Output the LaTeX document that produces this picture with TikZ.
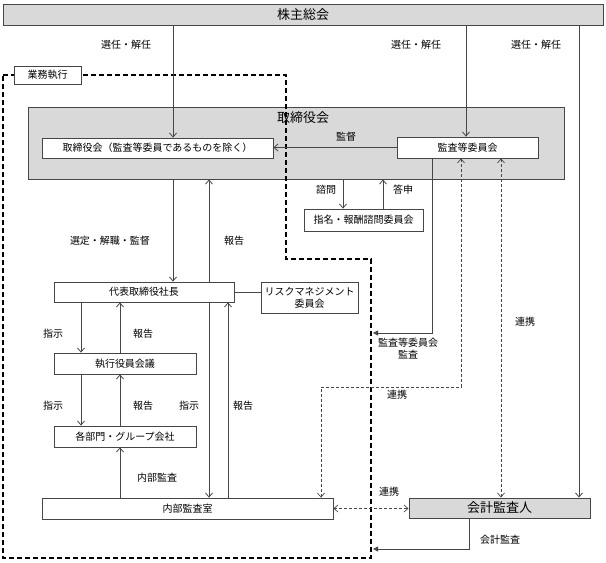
\documentclass[tikz,border=0pt]{standalone}
\usepackage{fontspec}
\setmainfont{Noto Sans CJK JP}
\usetikzlibrary{arrows.meta,calc}
\definecolor{ln}{RGB}{70,70,70}
\definecolor{gfill}{RGB}{217,217,217}
\tikzset{
  box/.style={draw=ln, line width=0.8pt, fill=white, inner sep=0pt, font=\fontsize{10}{12}\selectfont, text=black},
  gbox/.style={box, fill=gfill, line width=1pt},
  lab/.style={inner sep=0pt, font=\fontsize{10}{12}\selectfont, text=black},
  big/.style={font=\fontsize{13}{15}\selectfont},
  conn/.style={draw=ln, line width=0.8pt},
  arr/.style={conn, -{Straight Barb[length=4pt,width=7pt]}},
  darr/.style={conn, line width=0.7pt, dash pattern=on 3pt off 2pt, {Straight Barb[length=4pt,width=7pt]}-{Straight Barb[length=4pt,width=7pt]}},
  farr/.style={conn, -{Triangle[length=5pt,width=5pt]}},
  bound/.style={draw=black, line width=1.5pt, dash pattern=on 5pt off 3pt},
}
\begin{document}
\begin{tikzpicture}[x=1pt,y=-1pt]
\useasboundingbox (0,0) rectangle (606,563);
% boxes
\node[gbox, big, minimum width=600pt, minimum height=21pt] (kabu) at (303,14.5) {株主総会};
\node[gbox, minimum width=536pt, minimum height=72pt] (tori) at (296,143) {};
\node[lab, big] (toriT) at (303,118) {取締役会};
\node[box, minimum width=231pt, minimum height=20pt] (toriA) at (157.5,148) {取締役会（監査等委員であるものを除く）};
\node[box, minimum width=141pt, minimum height=21pt] (kansa) at (467.5,147.5) {監査等委員会};
\node[box, minimum width=119pt, minimum height=22pt] (shimei) at (363.5,220) {指名・報酬諮問委員会};
\node[box, minimum width=180pt, minimum height=20pt] (daihyo) at (144,292) {代表取締役社長};
\node[box, minimum width=97pt, minimum height=31pt, align=center] (risk) at (309.5,297.5) {リスクマネジメント\\委員会};
\node[box, minimum width=142pt, minimum height=21pt] (shikko) at (125,363.5) {執行役員会議};
\node[box, minimum width=142pt, minimum height=21pt] (kakubu) at (125,436.5) {各部門・グループ会社};
\node[box, minimum width=291pt, minimum height=21pt] (naibu) at (187.5,508.5) {内部監査室};
\node[gbox, big, minimum width=181pt, minimum height=20pt] (kaikei) at (499.5,508) {会計監査人};
% boundary
\draw[bound] (3,75) -- (286,75) -- (286,259) -- (371,259) -- (371,558) -- (3,558) -- cycle;
\node[box, minimum width=67pt, minimum height=18pt] (gyomu) at (47.5,75) {業務執行};
% helper coordinates
\coordinate (x81) at (81,0);
\coordinate (x120) at (120,0);
\coordinate (x173) at (173,0);
\coordinate (x209) at (209,0);
\coordinate (x228) at (228,0);
\coordinate (x343) at (343,0);
\coordinate (x383) at (383,0);
\coordinate (x432) at (432,0);
\coordinate (x461) at (461,0);
\coordinate (x466) at (466,0);
\coordinate (x469) at (469,0);
\coordinate (x501) at (501,0);
\coordinate (x579) at (579,0);
\coordinate (b1) at (373,333);
\coordinate (b2) at (373,549);
\coordinate (k1) at (321,387);
% connectors
\draw[arr] (kabu.south -| x173) -- (toriA.north -| x173);
\draw[arr] (kabu.south -| x466) -- (kansa.north -| x466);
\draw[arr] (kabu.south -| x579) -- (kaikei.north -| x579);
\draw[arr] (kansa.west) -- (kansa.west -| toriA.east);
\draw[arr] (tori.south -| x343) -- (shimei.north -| x343);
\draw[arr] (shimei.north -| x383) -- (tori.south -| x383);
\draw[farr] (kansa.south -| x432) |- (b1);
\draw[arr] (tori.south -| x173) -- (daihyo.north -| x173);
\draw[arr] (daihyo.north -| x209) -- (tori.south -| x209);
\draw[conn] (daihyo.east) -- (daihyo.east -| risk.west);
\draw[arr] (daihyo.south -| x81) -- (shikko.north -| x81);
\draw[arr] (shikko.north -| x120) -- (daihyo.south -| x120);
\draw[arr] (shikko.south -| x81) -- (kakubu.north -| x81);
\draw[arr] (kakubu.north -| x120) -- (shikko.south -| x120);
\draw[arr] (daihyo.south -| x209) -- (naibu.north -| x209);
\draw[arr] (naibu.north -| x228) -- (daihyo.south -| x228);
\draw[arr] (naibu.north -| x120) -- (kakubu.south -| x120);
\draw[darr] (kansa.south -| x461) |- (k1) -- (naibu.north -| k1);
\draw[darr] (kansa.south -| x501) -- (kaikei.north -| x501);
\draw[darr] (naibu.east) -- (naibu.east -| kaikei.west);
\draw[farr] (kaikei.south -| x469) |- (b2);
% labels
\node[lab] (l1) at (126,45) {選任・解任};
\node[lab] (l2) at (416,45) {選任・解任};
\node[lab] (l3) at (536,45) {選任・解任};
\node[lab] (l4) at (346,137) {監督};
\node[lab] (l5) at (326,190) {諮問};
\node[lab] (l6) at (403,190) {答申};
\node[lab] (l7) at (110,241) {選定・解職・監督};
\node[lab] (l8) at (234,241) {報告};
\node[lab] (l9) at (53,334) {指示};
\node[lab] (l10) at (143,334) {報告};
\node[lab] (l11) at (53,406) {指示};
\node[lab] (l12) at (143,406) {報告};
\node[lab] (l13) at (189,406) {指示};
\node[lab] (l14) at (243,406) {報告};
\node[lab] (l15) at (157,478) {内部監査};
\node[lab, align=center] (l16) at (408,349) {監査等委員会\\監査};
\node[lab] (l17) at (397,395) {連携};
\node[lab] (l18) at (525,322) {連携};
\node[lab] (l19) at (389,492) {連携};
\node[lab] (l20) at (500,540) {会計監査};
\end{tikzpicture}
\end{document}
